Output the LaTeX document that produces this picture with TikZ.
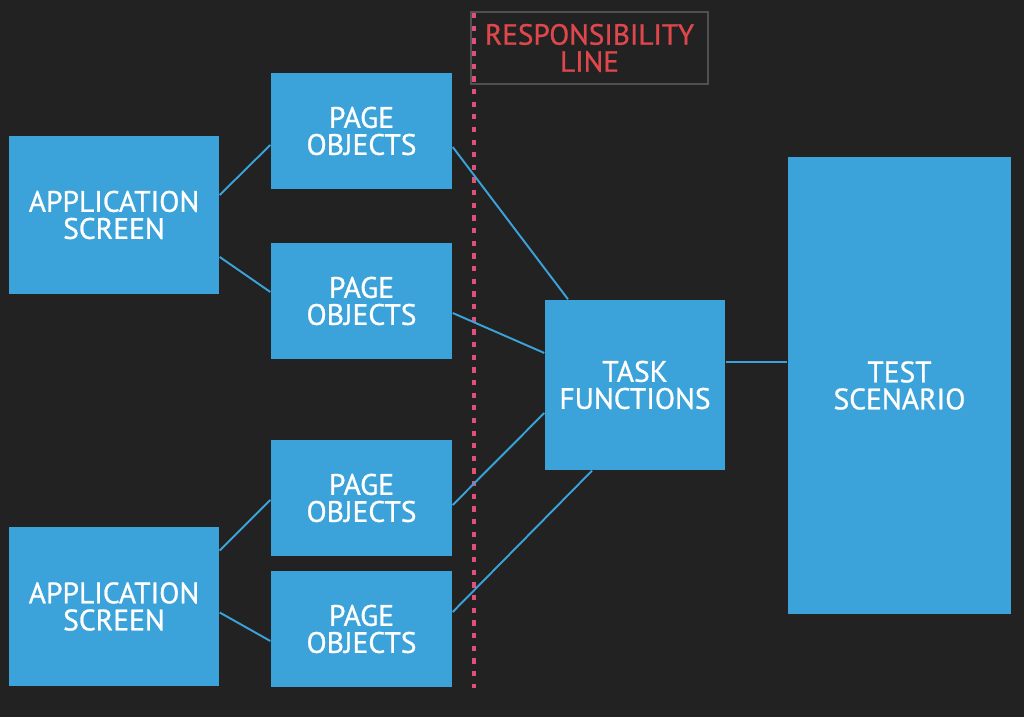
\documentclass[tikz,border=0pt]{standalone}
\usepackage{fontspec}
\setmainfont{PT Sans}[BoldFont=PT Sans, BoldFeatures={FakeBold=0.9}]
\usetikzlibrary{calc}
\definecolor{bgdark}{HTML}{222222}
\definecolor{boxblue}{HTML}{3BA3D9}
\definecolor{resred}{HTML}{E0474C}
\definecolor{linepink}{HTML}{E0507A}
\definecolor{framegray}{HTML}{505050}

\begin{document}
\begin{tikzpicture}[
  blk/.style={fill=boxblue, text=white, align=center, inner sep=0pt,
    font=\fontsize{8.4}{7.7}\selectfont\bfseries},
  conn/.style={boxblue, line width=0.55pt}]
  \fill[bgdark] (0,0) rectangle (10.24,-7.17);
  \useasboundingbox (0,0) rectangle (10.24,-7.17);

  \node[blk, minimum width=2.10cm, minimum height=1.58cm] (as1) at (1.14,-2.15) {APPLICATION\\SCREEN};
  \node[blk, minimum width=2.10cm, minimum height=1.59cm] (as2) at (1.14,-6.065) {APPLICATION\\SCREEN};

  \node[blk, minimum width=1.81cm, minimum height=1.16cm] (po1) at (3.615,-1.31) {PAGE\\OBJECTS};
  \node[blk, minimum width=1.81cm, minimum height=1.16cm] (po2) at (3.615,-3.01) {PAGE\\OBJECTS};
  \node[blk, minimum width=1.81cm, minimum height=1.16cm] (po3) at (3.615,-4.98) {PAGE\\OBJECTS};
  \node[blk, minimum width=1.81cm, minimum height=1.16cm] (po4) at (3.615,-6.29) {PAGE\\OBJECTS};

  \node[blk, minimum width=1.80cm, minimum height=1.70cm] (task) at (6.35,-3.85) {TASK\\FUNCTIONS};
  \node[blk, minimum width=2.23cm, minimum height=4.57cm] (test) at (8.995,-3.855) {TEST\\SCENARIO};

  \node[draw=framegray, line width=0.6pt, text=resred, align=center, inner sep=0pt,
    minimum width=2.37cm, minimum height=0.72cm,
    font=\fontsize{8.3}{7.7}\selectfont\bfseries] (resp) at (5.895,-0.48) {RESPONSIBILITY\\LINE};

  \coordinate (rtop) at (4.74,-0.13);
  \coordinate (rbot) at (4.74,-6.88);
  \draw[linepink, line width=0.9pt, dash pattern=on 1.5pt off 2.1pt] (rtop) -- (rbot);

  \draw[conn] ([yshift=0.20cm]as1.east) -- ([yshift=-0.14cm]po1.west);
  \draw[conn] ([yshift=-0.42cm]as1.east) -- ([yshift=0.09cm]po2.west);
  \draw[conn] ([yshift=0.56cm]as2.east) -- ([yshift=-0.02cm]po3.west);
  \draw[conn] ([yshift=-0.06cm]as2.east) -- ([yshift=-0.12cm]po4.west);

  \draw[conn] ([yshift=-0.16cm]po1.east) -- ([xshift=-0.67cm]task.north);
  \draw[conn] ([yshift=-0.12cm]po2.east) -- ([yshift=0.32cm]task.west);
  \draw[conn] ([yshift=-0.07cm]po3.east) -- ([yshift=-0.28cm]task.west);
  \draw[conn] ([yshift=0.17cm]po4.east) -- ([xshift=-0.43cm]task.south);

  \draw[conn] ([yshift=0.23cm]task.east) -- ([yshift=0.23cm]task.east -| test.west);
\end{tikzpicture}
\end{document}
